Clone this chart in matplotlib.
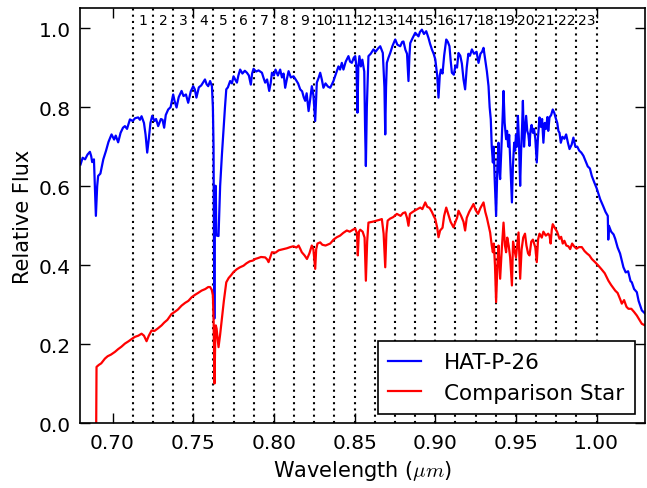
import numpy as np
import matplotlib
matplotlib.use("Agg")
import matplotlib.pyplot as plt

# HAT-P-26 spectrum (wavelength in micron, relative flux)
hat_wl = [0.6802, 0.6815, 0.6830, 0.6845, 0.6860, 0.6868, 0.6874, 0.6885, 0.6897, 0.6905,
          0.6911, 0.6925, 0.6943, 0.6960, 0.6975, 0.6994, 0.7010, 0.7020, 0.7035, 0.7050,
          0.7065, 0.7077, 0.7090, 0.7108, 0.7125, 0.7140, 0.7159, 0.7170, 0.7180, 0.7195,
          0.7205, 0.7215, 0.7225, 0.7235, 0.7246, 0.7260, 0.7270, 0.7283, 0.7300, 0.7310,
          0.7320, 0.7330, 0.7345, 0.7360, 0.7376, 0.7385, 0.7397, 0.7410, 0.7428, 0.7440,
          0.7455, 0.7469, 0.7485, 0.7500, 0.7510, 0.7520, 0.7535, 0.7550, 0.7573, 0.7583,
          0.7593, 0.7605, 0.7616, 0.7622, 0.7626, 0.7629, 0.7631, 0.7634, 0.7636, 0.7640,
          0.7643, 0.7647, 0.7657, 0.7667, 0.7678, 0.7688, 0.7697, 0.7705, 0.7715, 0.7729,
          0.7740, 0.7750, 0.7760, 0.7771, 0.7780, 0.7791, 0.7805, 0.7820, 0.7833, 0.7845,
          0.7857, 0.7865, 0.7874, 0.7890, 0.7905, 0.7926, 0.7935, 0.7946, 0.7958, 0.7971,
          0.7980, 0.7988, 0.8000, 0.8010, 0.8025, 0.8039, 0.8050, 0.8060, 0.8070, 0.8080,
          0.8091, 0.8105, 0.8122, 0.8135, 0.8150, 0.8163, 0.8175, 0.8185, 0.8194, 0.8203,
          0.8215, 0.8225, 0.8235, 0.8245, 0.8256, 0.8266, 0.8278, 0.8287, 0.8297, 0.8307,
          0.8320, 0.8335, 0.8349, 0.8360, 0.8369, 0.8385, 0.8400, 0.8410, 0.8421, 0.8431,
          0.8445, 0.8462, 0.8472, 0.8483, 0.8495, 0.8504, 0.8512, 0.8518, 0.8523, 0.8530,
          0.8539, 0.8548, 0.8560, 0.8565, 0.8570, 0.8576, 0.8586, 0.8600, 0.8617, 0.8630,
          0.8645, 0.8659, 0.8675, 0.8685, 0.8690, 0.8695, 0.8700, 0.8710, 0.8721, 0.8735,
          0.8752, 0.8765, 0.8783, 0.8795, 0.8803, 0.8815, 0.8825, 0.8834, 0.8840, 0.8845,
          0.8860, 0.8876, 0.8896, 0.8905, 0.8917, 0.8930, 0.8944, 0.8958, 0.8968, 0.8979,
          0.8990, 0.9000, 0.9012, 0.9020, 0.9028, 0.9035, 0.9045, 0.9055, 0.9068, 0.9078,
          0.9088, 0.9095, 0.9103, 0.9115, 0.9125, 0.9135, 0.9144, 0.9155, 0.9165, 0.9175,
          0.9185, 0.9195, 0.9205, 0.9215, 0.9227, 0.9240, 0.9256, 0.9268, 0.9280, 0.9290,
          0.9299, 0.9309, 0.9320, 0.9330, 0.9337, 0.9344, 0.9350, 0.9357, 0.9362, 0.9368,
          0.9377, 0.9385, 0.9392, 0.9397, 0.9402, 0.9410, 0.9418, 0.9423, 0.9430, 0.9439,
          0.9445, 0.9452, 0.9458, 0.9464, 0.9470, 0.9475, 0.9481, 0.9489, 0.9495, 0.9500,
          0.9506, 0.9512, 0.9518, 0.9526, 0.9532, 0.9538, 0.9543, 0.9550, 0.9556, 0.9563,
          0.9570, 0.9577, 0.9584, 0.9590, 0.9597, 0.9605, 0.9612, 0.9620, 0.9629, 0.9636,
          0.9646, 0.9655, 0.9662, 0.9670, 0.9678, 0.9686, 0.9695, 0.9700, 0.9708, 0.9718,
          0.9728, 0.9738, 0.9748, 0.9756, 0.9763, 0.9770, 0.9778, 0.9788, 0.9800, 0.9811,
          0.9822, 0.9832, 0.9845, 0.9856, 0.9868, 0.9880, 0.9892, 0.9905, 0.9918, 0.9930,
          0.9945, 0.9958, 0.9970, 0.9985, 1.0000, 1.0022, 1.0040, 1.0055, 1.0069, 1.0072,
          1.0076, 1.0090, 1.0105, 1.0115, 1.0130, 1.0145, 1.0166, 1.0180, 1.0195, 1.0210,
          1.0218, 1.0232, 1.0249, 1.0260, 1.0270, 1.0280, 1.0290, 1.0300]
hat_flux = [0.655, 0.672, 0.668, 0.680, 0.687, 0.676, 0.661, 0.668, 0.525, 0.600,
            0.626, 0.632, 0.668, 0.690, 0.712, 0.731, 0.718, 0.728, 0.711, 0.735,
            0.748, 0.752, 0.745, 0.769, 0.765, 0.772, 0.774, 0.768, 0.777, 0.760,
            0.730, 0.685, 0.720, 0.760, 0.778, 0.765, 0.770, 0.752, 0.770, 0.768,
            0.748, 0.780, 0.794, 0.800, 0.832, 0.815, 0.799, 0.825, 0.841, 0.828,
            0.832, 0.811, 0.840, 0.853, 0.845, 0.824, 0.850, 0.855, 0.870, 0.858,
            0.853, 0.866, 0.853, 0.800, 0.700, 0.400, 0.265, 0.500, 0.601, 0.601,
            0.480, 0.475, 0.474, 0.601, 0.680, 0.744, 0.800, 0.845, 0.850, 0.866,
            0.860, 0.878, 0.870, 0.862, 0.880, 0.895, 0.885, 0.892, 0.887, 0.880,
            0.857, 0.885, 0.897, 0.890, 0.893, 0.887, 0.875, 0.862, 0.870, 0.841,
            0.860, 0.887, 0.880, 0.895, 0.880, 0.895, 0.875, 0.885, 0.849, 0.870,
            0.891, 0.875, 0.878, 0.870, 0.860, 0.845, 0.840, 0.825, 0.816, 0.835,
            0.790, 0.820, 0.853, 0.830, 0.765, 0.862, 0.875, 0.887, 0.870, 0.849,
            0.860, 0.852, 0.849, 0.858, 0.866, 0.885, 0.903, 0.895, 0.912, 0.895,
            0.915, 0.929, 0.915, 0.912, 0.925, 0.929, 0.900, 0.786, 0.900, 0.929,
            0.903, 0.920, 0.890, 0.750, 0.651, 0.800, 0.929, 0.935, 0.946, 0.940,
            0.948, 0.954, 0.937, 0.850, 0.731, 0.850, 0.912, 0.925, 0.937, 0.955,
            0.971, 0.958, 0.954, 0.965, 0.966, 0.945, 0.935, 0.866, 0.930, 0.962,
            0.975, 0.988, 0.979, 0.990, 0.996, 0.985, 0.992, 0.975, 0.960, 0.946,
            0.935, 0.921, 0.880, 0.824, 0.880, 0.895, 0.885, 0.930, 0.971, 0.965,
            0.954, 0.920, 0.887, 0.882, 0.905, 0.900, 0.937, 0.930, 0.910, 0.870,
            0.845, 0.900, 0.935, 0.930, 0.946, 0.935, 0.940, 0.912, 0.935, 0.940,
            0.950, 0.921, 0.890, 0.853, 0.800, 0.769, 0.700, 0.660, 0.700, 0.620,
            0.525, 0.650, 0.710, 0.640, 0.618, 0.700, 0.780, 0.841, 0.760, 0.719,
            0.740, 0.700, 0.730, 0.668, 0.610, 0.559, 0.650, 0.710, 0.690, 0.730,
            0.700, 0.778, 0.720, 0.601, 0.690, 0.750, 0.816, 0.700, 0.740, 0.778,
            0.740, 0.730, 0.702, 0.740, 0.755, 0.735, 0.745, 0.720, 0.660, 0.720,
            0.774, 0.750, 0.770, 0.710, 0.760, 0.745, 0.775, 0.740, 0.774, 0.780,
            0.794, 0.785, 0.770, 0.760, 0.740, 0.735, 0.710, 0.725, 0.720, 0.731,
            0.710, 0.694, 0.705, 0.723, 0.700, 0.700, 0.690, 0.685, 0.677, 0.665,
            0.650, 0.645, 0.626, 0.610, 0.595, 0.567, 0.550, 0.535, 0.525, 0.465,
            0.500, 0.485, 0.478, 0.467, 0.445, 0.430, 0.395, 0.382, 0.385, 0.360,
            0.357, 0.340, 0.332, 0.310, 0.298, 0.286, 0.282, 0.278]

# comparison star spectrum
comp_wl = [0.6899, 0.6901, 0.6915, 0.6930, 0.6953, 0.6970, 0.6990, 0.7015, 0.7035, 0.7055,
           0.7077, 0.7100, 0.7120, 0.7139, 0.7160, 0.7180, 0.7195, 0.7211, 0.7225, 0.7242,
           0.7260, 0.7280, 0.7304, 0.7320, 0.7340, 0.7366, 0.7385, 0.7405, 0.7428, 0.7450,
           0.7470, 0.7490, 0.7510, 0.7530, 0.7552, 0.7575, 0.7593, 0.7605, 0.7615, 0.7622,
           0.7627, 0.7632, 0.7636, 0.7640, 0.7645, 0.7657, 0.7667, 0.7678, 0.7690, 0.7705,
           0.7720, 0.7735, 0.7750, 0.7770, 0.7790, 0.7812, 0.7830, 0.7850, 0.7870, 0.7884,
           0.7900, 0.7920, 0.7946, 0.7958, 0.7967, 0.7988, 0.8010, 0.8030, 0.8060, 0.8080,
           0.8101, 0.8120, 0.8140, 0.8153, 0.8163, 0.8173, 0.8190, 0.8205, 0.8220, 0.8235,
           0.8245, 0.8256, 0.8262, 0.8270, 0.8287, 0.8300, 0.8320, 0.8349, 0.8370, 0.8390,
           0.8410, 0.8430, 0.8452, 0.8470, 0.8490, 0.8504, 0.8515, 0.8520, 0.8527, 0.8535,
           0.8550, 0.8562, 0.8570, 0.8578, 0.8586, 0.8610, 0.8638, 0.8655, 0.8669, 0.8680,
           0.8690, 0.8697, 0.8705, 0.8720, 0.8740, 0.8762, 0.8785, 0.8800, 0.8814, 0.8825,
           0.8834, 0.8843, 0.8860, 0.8880, 0.8907, 0.8920, 0.8938, 0.8950, 0.8965, 0.8979,
           0.8990, 0.9000, 0.9012, 0.9020, 0.9030, 0.9045, 0.9055, 0.9068, 0.9080, 0.9095,
           0.9113, 0.9125, 0.9135, 0.9144, 0.9160, 0.9175, 0.9185, 0.9195, 0.9210, 0.9237,
           0.9250, 0.9265, 0.9280, 0.9299, 0.9310, 0.9320, 0.9340, 0.9350, 0.9357, 0.9363,
           0.9370, 0.9377, 0.9385, 0.9392, 0.9402, 0.9412, 0.9423, 0.9432, 0.9439, 0.9446,
           0.9455, 0.9464, 0.9475, 0.9482, 0.9490, 0.9500, 0.9510, 0.9516, 0.9526, 0.9535,
           0.9545, 0.9556, 0.9565, 0.9575, 0.9584, 0.9595, 0.9605, 0.9620, 0.9629, 0.9637,
           0.9646, 0.9660, 0.9670, 0.9685, 0.9700, 0.9708, 0.9715, 0.9722, 0.9728, 0.9740,
           0.9755, 0.9770, 0.9780, 0.9790, 0.9800, 0.9812, 0.9825, 0.9836, 0.9848, 0.9860,
           0.9875, 0.9890, 0.9908, 0.9925, 0.9940, 0.9955, 0.9970, 0.9990, 1.0011, 1.0030,
           1.0050, 1.0073, 1.0090, 1.0115, 1.0130, 1.0145, 1.0156, 1.0170, 1.0185, 1.0197,
           1.0215, 1.0232, 1.0249, 1.0265, 1.0280, 1.0300]
comp_flux = [0.000, 0.143, 0.148, 0.152, 0.164, 0.170, 0.174, 0.181, 0.188, 0.194,
             0.202, 0.208, 0.214, 0.219, 0.222, 0.227, 0.222, 0.208, 0.222, 0.235,
             0.234, 0.240, 0.248, 0.255, 0.262, 0.277, 0.282, 0.288, 0.298, 0.305,
             0.310, 0.319, 0.325, 0.330, 0.336, 0.340, 0.345, 0.345, 0.338, 0.324,
             0.250, 0.101, 0.200, 0.248, 0.240, 0.193, 0.225, 0.265, 0.310, 0.357,
             0.368, 0.375, 0.383, 0.390, 0.395, 0.399, 0.405, 0.410, 0.412, 0.416,
             0.418, 0.421, 0.420, 0.415, 0.408, 0.433, 0.432, 0.438, 0.441, 0.443,
             0.446, 0.448, 0.445, 0.450, 0.442, 0.433, 0.425, 0.416, 0.430, 0.450,
             0.440, 0.391, 0.440, 0.455, 0.458, 0.452, 0.450, 0.455, 0.465, 0.471,
             0.475, 0.482, 0.488, 0.485, 0.490, 0.493, 0.480, 0.425, 0.485, 0.490,
             0.485, 0.470, 0.361, 0.460, 0.508, 0.510, 0.513, 0.515, 0.517, 0.480,
             0.395, 0.480, 0.513, 0.518, 0.522, 0.530, 0.525, 0.532, 0.534, 0.520,
             0.500, 0.530, 0.535, 0.540, 0.546, 0.542, 0.559, 0.548, 0.545, 0.535,
             0.525, 0.517, 0.495, 0.471, 0.488, 0.495, 0.525, 0.546, 0.530, 0.510,
             0.496, 0.510, 0.520, 0.538, 0.525, 0.510, 0.488, 0.520, 0.535, 0.555,
             0.540, 0.530, 0.545, 0.559, 0.535, 0.520, 0.483, 0.450, 0.433, 0.455,
             0.400, 0.307, 0.400, 0.450, 0.366, 0.440, 0.508, 0.450, 0.433, 0.470,
             0.450, 0.420, 0.349, 0.460, 0.440, 0.420, 0.460, 0.483, 0.366, 0.440,
             0.470, 0.480, 0.450, 0.430, 0.425, 0.460, 0.465, 0.445, 0.408, 0.465,
             0.480, 0.470, 0.485, 0.475, 0.480, 0.475, 0.455, 0.490, 0.504, 0.495,
             0.485, 0.467, 0.472, 0.455, 0.462, 0.450, 0.448, 0.441, 0.455, 0.448,
             0.442, 0.446, 0.446, 0.436, 0.430, 0.425, 0.416, 0.408, 0.399, 0.390,
             0.380, 0.361, 0.350, 0.336, 0.330, 0.315, 0.303, 0.312, 0.295, 0.290,
             0.290, 0.282, 0.273, 0.262, 0.252, 0.248]

# spectroscopic bin edges and bin numbers
bin_edges = [0.7125, 0.7250, 0.7375, 0.7500, 0.7625, 0.7750, 0.7875, 0.8000,
             0.8125, 0.8250, 0.8375, 0.8500, 0.8625, 0.8750, 0.8875, 0.9000,
             0.9125, 0.9250, 0.9375, 0.9500, 0.9625, 0.9750, 0.9875, 1.0000]
bin_labels = [str(i) for i in range(1, 24)]

plt.rcParams["font.family"] = "DejaVu Sans"
plt.rcParams["mathtext.fontset"] = "cm"
plt.rcParams["font.size"] = 15

fig = plt.figure(figsize=(6.47, 4.89), dpi=100)
ax = fig.add_axes([0.124, 0.132, 0.873, 0.849])

ax.plot(hat_wl, hat_flux, color="b", lw=1.6, label="HAT-P-26")
ax.plot(comp_wl, comp_flux, color="r", lw=1.6, label="Comparison Star")

for e in bin_edges:
    ax.axvline(e, color="k", ls=(0, (1, 2)), lw=1.5, zorder=0)
for i, lab in enumerate(bin_labels):
    xc = 0.5 * (bin_edges[i] + bin_edges[i + 1])
    ax.text(xc, 1.02, lab, ha="center", va="center", fontsize=10)

ax.set_xlim(0.68, 1.03)
ax.set_ylim(0.0, 1.05)
ax.set_xticks([0.70, 0.75, 0.80, 0.85, 0.90, 0.95, 1.00])
ax.set_xticklabels(["0.70", "0.75", "0.80", "0.85", "0.90", "0.95", "1.00"])
ax.set_yticks([0.0, 0.2, 0.4, 0.6, 0.8, 1.0])
ax.set_yticklabels(["0.0", "0.2", "0.4", "0.6", "0.8", "1.0"])
ax.tick_params(direction="in", top=True, right=True, length=7, width=1, labelsize=14.5, pad=7)
for s in ax.spines.values():
    s.set_linewidth(1.2)

ax.set_xlabel(r"Wavelength ($\mu m$)", fontsize=15)
ax.set_ylabel("Relative Flux", fontsize=15)

leg = ax.legend(loc="lower right", fontsize=15.5, fancybox=False, handlelength=1.5,
                handletextpad=1.1, borderpad=0.5, borderaxespad=0.45, framealpha=1)
leg.get_frame().set_edgecolor("k")
leg.get_frame().set_linewidth(1.2)

fig.savefig("out.png", dpi=100)
